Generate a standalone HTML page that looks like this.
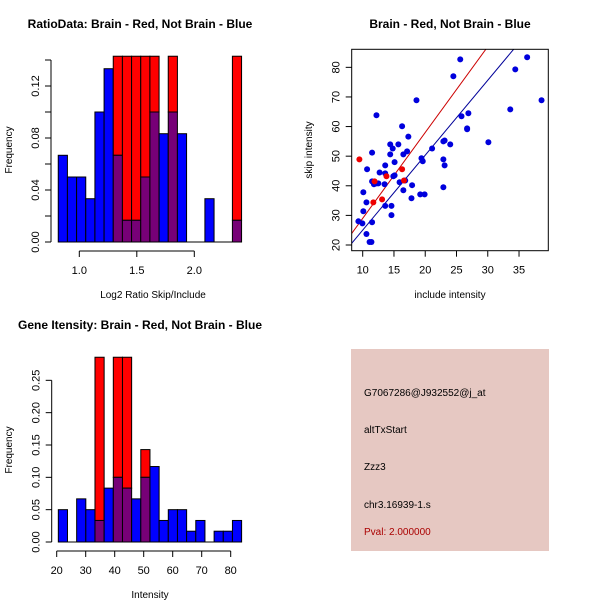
<!DOCTYPE html>
<html><head><meta charset="utf-8"><style>
body{margin:0;background:#fff}
svg{display:block;font-family:"Liberation Sans",sans-serif}
</style></head><body>
<svg id="c" width="600" height="600" viewBox="0 0 600 600">
<text x="140" y="28" font-size="12" font-weight="bold" text-anchor="middle">RatioData: Brain - Red, Not Brain - Blue</text>
<text x="450" y="28" font-size="12" font-weight="bold" text-anchor="middle">Brain - Red, Not Brain - Blue</text>
<text x="140" y="329" font-size="12" font-weight="bold" text-anchor="middle">Gene Itensity: Brain - Red, Not Brain - Blue</text>
<text x="153" y="298" font-size="10" text-anchor="middle">Log2 Ratio Skip/Include</text>
<text transform="translate(12,150) rotate(-90)" font-size="10" text-anchor="middle">Frequency</text>
<text x="450" y="298" font-size="10" text-anchor="middle">include intensity</text>
<text transform="translate(312,150) rotate(-90)" font-size="10" text-anchor="middle">skip intensity</text>
<text x="150" y="598" font-size="10" text-anchor="middle">Intensity</text>
<text transform="translate(12,450) rotate(-90)" font-size="10" text-anchor="middle">Frequency</text>
<rect x="351" y="349" width="198" height="202" fill="#e6c8c2"/>
<text x="364" y="396" font-size="10">G7067286@J932552@j_at</text>
<text x="364" y="433" font-size="10">altTxStart</text>
<text x="364" y="470" font-size="10">Zzz3</text>
<text x="364" y="508" font-size="10">chr3.16939-1.s</text>
<text x="364" y="535" font-size="10" fill="#aa0000">Pval: 2.000000</text>
</svg>
<script>
// Ratio histogram data
const ratioStart = 0.817, ratioBinW = 0.0797;
const ratioBlue = [0.0667,0.05,0.05,0.0333,0.1,0.1333,0.0667,0.0167,0.0167,0.05,0.1,0.0833,0.1,0.0833,0,0,0.0333,0,0,0.0167];
const ratioRed = [0,0,0,0,0,0,0.1429,0.1429,0.1429,0.1429,0.1429,0,0.1429,0,0,0,0,0,0,0.1429];
const ratioYTicks = [0,0.02,0.04,0.06,0.08,0.10,0.12,0.14];
const ratioYLabels = ["0.00","","0.04","","0.08","","0.12",""];
const ratioXTicks = [1.0,1.5,2.0];
const ratioXLabels = ["1.0","1.5","2.0"];
// Intensity histogram data
const intStart = 20.56, intBinW = 3.16;
const intBlue = [0.05,0,0.0667,0.05,0.0333,0.0833,0.1,0.0833,0.0667,0.1,0.1167,0.0333,0.05,0.05,0.0167,0.0333,0,0.0167,0.0167,0.0333];
const intRed = [0,0,0,0,0.2857,0,0.2857,0.2857,0,0.1429,0,0,0,0,0,0,0,0,0,0];
const intYTicks = [0,0.05,0.10,0.15,0.20,0.25];
const intYLabels = ["0.00","0.05","0.10","0.15","0.20","0.25"];
const intXTicks = [20,30,40,50,60,70,80];
const intXLabels = ["20","30","40","50","60","70","80"];
// Scatter data
const blueX = [9.31,9.95,10.6,11.1,11.4,11.5,10.1,10.6,10.1,10.7,11.5,12.2,11.5,11.8,12.2,12.5,12.7,13.5,13.6,13.6,13.6,14.6,14.6,14.4,14.4,14.8,15.1,15.1,14.9,15.7,15.9,16.3,16.5,16.5,16.8,17.3,17.1,17.8,17.9,18.6,19.2,19.9,19.4,19.6,21.1,22.9,22.9,23.1,22.9,23.1,24.0,24.5,25.6,25.8,26.9,26.7,26.7,30.1,33.6,34.4,36.3,38.6];
const blueY = [28.0,27.3,23.7,21.0,21.0,27.7,31.4,34.4,37.8,45.6,51.2,63.8,41.5,40.5,40.8,40.8,44.5,40.5,44.2,46.9,33.2,33.2,30.1,54.0,50.6,52.6,48.0,43.5,43.2,54.0,41.2,60.1,50.6,38.5,41.8,56.6,51.6,35.8,40.2,68.9,37.1,37.1,49.3,48.3,52.6,39.5,48.9,46.9,55.0,55.3,54.0,77.0,82.7,63.5,64.5,59.4,59.1,54.7,65.8,79.3,83.4,68.9];
const redX = [9.47,11.7,13.1,13.8,16.3,16.6,11.9];
const redY = [48.9,34.4,35.4,43.2,45.6,41.8,41.5];
const lineSlopes = [2.9,2.53];
const lineIntercepts = [0,-0.27];
const lineColors = ["#cc0000","#000099"];
const scXTicks = [10,15,20,25,30,35];
const scYTicks = [20,30,40,50,60,70,80];

const NS = "http://www.w3.org/2000/svg";
const svg = document.getElementById('c');
function mk(tag, attrs, parent){const e=document.createElementNS(NS,tag);for(const k in attrs)e.setAttribute(k,attrs[k]);(parent||svg).appendChild(e);return e;}

function hist(cfg){
  const g = mk('g',{});
  
  
  const sx = v => cfg.x0 + (v - cfg.xv0) * cfg.xs;
  const sy = v => cfg.y0 - v * cfg.ys;
  const n = cfg.blue.length;
  for(let i=0;i<n;i++){
    const l = sx(cfg.start + i*cfg.bw), r = sx(cfg.start + (i+1)*cfg.bw);
    const b = cfg.blue[i], rd = Math.min(cfg.red[i], cfg.ymax);
    const lo = Math.min(b, rd), hi = Math.max(b, rd);
    if(hi>0){
      const e = mk('rect',{x:l,y:sy(hi),width:r-l,height:sy(lo)-sy(hi)+0.001,fill:rd>b?'#ff0000':'#0000ff',stroke:'#000','stroke-width':1},g);
      
      
    }
    if(lo>0){
      const e = mk('rect',{x:l,y:sy(lo),width:r-l,height:sy(0)-sy(lo),fill:'#770077',stroke:'#000','stroke-width':1},g);
      
      
    }
  }
  mk('line',{x1:sx(cfg.start),x2:sx(cfg.start+n*cfg.bw),y1:sy(0),y2:sy(0),stroke:'#000'},g);
  // y axis
  const yt = cfg.yTicks, ax = cfg.yAxisX;
  mk('line',{x1:ax,x2:ax,y1:sy(yt[0]),y2:sy(yt[yt.length-1]),stroke:'#000'},g);
  yt.forEach((t,i)=>{
    mk('line',{x1:ax-6,x2:ax,y1:sy(t),y2:sy(t),stroke:'#000'},g);
    if(cfg.yLabels[i]){const e=mk('text',{transform:`translate(${ax-12},${sy(t)}) rotate(-90)`,'font-size':11,'text-anchor':'middle'},g);e.textContent=cfg.yLabels[i];}
  });
  const xt = cfg.xTicks, ay = cfg.xAxisY;
  mk('line',{x1:sx(xt[0]),x2:sx(xt[xt.length-1]),y1:ay,y2:ay,stroke:'#000'},g);
  xt.forEach((t,i)=>{
    mk('line',{x1:sx(t),x2:sx(t),y1:ay,y2:ay+6,stroke:'#000'},g);
    const e=mk('text',{x:sx(t),y:ay+23,'font-size':11,'text-anchor':'middle'},g);e.textContent=cfg.xLabels[i];
  });
}
hist({name:'ratio-histogram',x0:79.3,xv0:1.0,xs:115,y0:242,ys:1300,start:ratioStart,bw:ratioBinW,blue:ratioBlue,red:ratioRed,ymax:0.1429,yTicks:ratioYTicks,yLabels:ratioYLabels,yAxisX:51,xTicks:ratioXTicks,xLabels:ratioXLabels,xAxisY:251});
hist({name:'intensity-histogram',x0:56.7,xv0:20,xs:2.9,y0:542,ys:646.7,start:intStart,bw:intBinW,blue:intBlue,red:intRed,ymax:0.2857,yTicks:intYTicks,yLabels:intYLabels,yAxisX:51.7,xTicks:intXTicks,xLabels:intXLabels,xAxisY:551});

// scatter
(function(){
  const g = mk('g',{});
  
  
  const L=351.7,R=548.3,T=49.3,B=250.7;
  const sx = v => 362.7 + (v-10)*6.253;
  const sy = v => 245 - (v-20)*2.961;
  const xmin=(L-362.7)/6.253+10, xmax=(R-362.7)/6.253+10;
  mk('clipPath',{id:'scclip'},g);
  mk('rect',{x:L,y:T,width:R-L,height:B-T},g.lastChild);
  lineSlopes.forEach((s,i)=>{
    const e=mk('line',{x1:sx(xmin),y1:sy(lineIntercepts[i]+s*xmin),x2:sx(xmax),y2:sy(lineIntercepts[i]+s*xmax),stroke:lineColors[i],'clip-path':'url(#scclip)'},g);
    
    
  });
  blueX.forEach((x,i)=>{
    const e=mk('circle',{cx:sx(x),cy:sy(blueY[i]),r:3,fill:'#0000dd'},g);
    
    
  });
  redX.forEach((x,i)=>{
    const e=mk('circle',{cx:sx(x),cy:sy(redY[i]),r:3,fill:'#ee0000'},g);
    
    
  });
  mk('rect',{x:L,y:T,width:R-L,height:B-T,fill:'none',stroke:'#000'},g);
  scXTicks.forEach(t=>{
    mk('line',{x1:sx(t),x2:sx(t),y1:B,y2:B+6,stroke:'#000'},g);
    const e=mk('text',{x:sx(t),y:B+23,'font-size':11,'text-anchor':'middle'},g);e.textContent=String(t);
  });
  scYTicks.forEach(t=>{
    mk('line',{x1:L-6,x2:L,y1:sy(t),y2:sy(t),stroke:'#000'},g);
    const e=mk('text',{transform:`translate(${L-12},${sy(t)}) rotate(-90)`,'font-size':11,'text-anchor':'middle'},g);e.textContent=String(t);
  });
})();
</script>
</body></html>
